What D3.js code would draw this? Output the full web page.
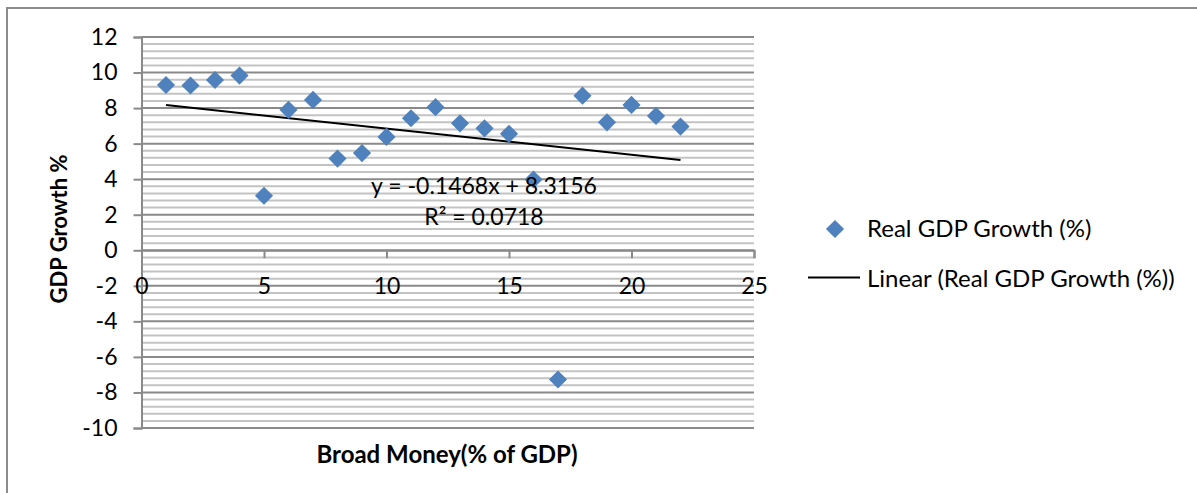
<!DOCTYPE html>
<html>
<head>
<meta charset="utf-8">
<script src="https://cdn.jsdelivr.net/npm/d3@7"></script>
<style>
  html, body { margin: 0; padding: 0; background: #fff; }
  svg { display: block; }
  text { font-family: Lato, "Open Sans", sans-serif; fill: #000; }
</style>
</head>
<body>
<svg id="chart" width="1197" height="493"></svg>
<script>
// ---- data ----
const xValues = [1, 2, 3, 4, 5, 6, 7, 8, 9, 10, 11, 12, 13, 14, 15, 16, 17, 18, 19, 20, 21, 22];
const gdpGrowth = [9.3, 9.27, 9.58, 9.83, 3.07, 7.9, 8.46, 5.16, 5.47, 6.38, 7.43, 8.05, 7.14, 6.86, 6.55, 3.98, -7.27, 8.7, 7.2, 8.18, 7.56, 6.96];
const trendSlope = -0.1468;
const trendIntercept = 8.3156;
const equationLabel = "y = -0.1468x + 8.3156";
const r2Label = "R² = 0.0718";
const xTicks = [0, 5, 10, 15, 20, 25];
const yTicks = [-10, -8, -6, -4, -2, 0, 2, 4, 6, 8, 10, 12];
const seriesName = "Real GDP Growth (%)";
const trendName = "Linear (Real GDP Growth (%))";
const xTitle = "Broad Money(% of GDP)";
const yTitle = "GDP Growth %";

// ---- layout ----
const svg = d3.select("#chart");
const plot = { left: 141.5, right: 754, top: 37, bottom: 428 };
const x = d3.scaleLinear().domain([0, 25]).range([plot.left, plot.right]);
const y = d3.scaleLinear().domain([-10, 12]).range([plot.bottom, plot.top]);
const blue = "#4F81BD";
const majorGrid = "#8a8a8a";
const minorGrid = "#c3c3c3";
const fmt = d => String(d);

// outer chart border (extends past right/bottom edges)
svg.append("rect")
  .attr("x", 7).attr("y", 8).attr("width", 1220).attr("height", 520)
  .attr("fill", "none").attr("stroke", "#8c8c8c").attr("stroke-width", 2);

// minor gridlines
const minorVals = d3.range(0, 56).filter(i => i % 5 !== 0).map(i => -10 + i * 0.4);
svg.append("g").selectAll("line").data(minorVals).join("line")
  .attr("x1", plot.left).attr("x2", plot.right)
  .attr("y1", d => y(d)).attr("y2", d => y(d))
  .attr("stroke", minorGrid).attr("stroke-width", 2);

// major gridlines
svg.append("g").selectAll("line").data(yTicks).join("line")
  .attr("x1", plot.left).attr("x2", plot.right)
  .attr("y1", d => y(d)).attr("y2", d => y(d))
  .attr("stroke", majorGrid).attr("stroke-width", 2);

// y axis
const yAxis = d3.axisLeft(y).tickValues(yTicks).tickSize(8).tickPadding(16).tickFormat(fmt);
const gy = svg.append("g").attr("transform", `translate(${plot.left},0)`).call(yAxis);
gy.select(".domain").attr("stroke", majorGrid).attr("stroke-width", 2);
gy.selectAll(".tick line").attr("stroke", majorGrid).attr("stroke-width", 2);
gy.selectAll(".tick text").attr("font-size", 23).attr("font-family", "Lato").attr("fill", "#000").attr("dy", "0.32em");

// x axis at y = 0
const xAxis = d3.axisBottom(x).tickValues(xTicks).tickSize(8).tickFormat(fmt);
const gx = svg.append("g").attr("transform", `translate(0,${y(0)})`).call(xAxis);
gx.select(".domain").attr("stroke", majorGrid).attr("stroke-width", 2);
gx.selectAll(".tick line").attr("stroke", majorGrid).attr("stroke-width", 2);
gx.selectAll(".tick text").attr("font-size", 23).attr("font-family", "Lato").attr("fill", "#000")
  .attr("y", 0).attr("dy", 0).attr("transform", `translate(0,${y(-2) - y(0) + 8})`);

// trend line
svg.append("line")
  .attr("x1", x(xValues[0])).attr("y1", y(trendSlope * xValues[0] + trendIntercept))
  .attr("x2", x(xValues[xValues.length - 1])).attr("y2", y(trendSlope * xValues[xValues.length - 1] + trendIntercept))
  .attr("stroke", "#000").attr("stroke-width", 2);

// markers
const diamond = d3.symbol().type(d3.symbolSquare).size(165);
svg.append("g").selectAll("path").data(xValues.map((v, i) => [v, gdpGrowth[i]])).join("path")
  .attr("d", diamond)
  .attr("transform", d => `translate(${x(d[0])},${y(d[1])}) rotate(45)`)
  .attr("fill", blue);

// equation labels
svg.append("text").attr("x", 484).attr("y", 194).attr("text-anchor", "middle")
  .attr("font-size", 23).text(equationLabel);
svg.append("text").attr("x", 484).attr("y", 225).attr("text-anchor", "middle")
  .attr("font-size", 23).text(r2Label);

// axis titles
svg.append("text").attr("x", 447).attr("y", 463).attr("text-anchor", "middle")
  .attr("font-size", 24).attr("font-weight", "bold").text(xTitle);
svg.append("text").attr("transform", "translate(67,229) rotate(-90)").attr("text-anchor", "middle")
  .attr("font-size", 22).attr("font-weight", "bold").text(yTitle);

// legend
const lg = svg.append("g");
lg.append("path").attr("d", diamond).attr("transform", "translate(835,229) rotate(45)").attr("fill", blue);
lg.append("text").attr("x", 867).attr("y", 237).attr("font-size", 24).text(seriesName);
lg.append("line").attr("x1", 808).attr("x2", 860).attr("y1", 277.5).attr("y2", 277.5)
  .attr("stroke", "#000").attr("stroke-width", 2);
lg.append("text").attr("x", 867).attr("y", 287).attr("font-size", 24).text(trendName);
</script>
</body>
</html>
